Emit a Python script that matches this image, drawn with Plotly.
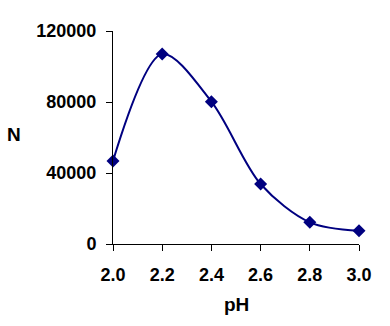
import plotly.graph_objects as go

ph = [2.0, 2.2, 2.4, 2.6, 2.8, 3.0]
n_vals = [46800, 107000, 80200, 33800, 12200, 7400]
y_ticks = [0, 40000, 80000, 120000]
x_ticks = [2.0, 2.2, 2.4, 2.6, 2.8, 3.0]

navy = "#000080"
tickfont = dict(family="Liberation Sans, Arial", size=18, color="black", weight="bold")

fig = go.Figure()
fig.add_trace(go.Scatter(
    x=ph, y=n_vals, mode="lines+markers",
    line=dict(color=navy, width=2, shape="spline", smoothing=0.9),
    marker=dict(symbol="diamond", size=10, color=navy),
    cliponaxis=False, showlegend=False,
))

fig.update_layout(
    width=390, height=326,
    margin=dict(l=113, r=31, t=31, b=82),
    paper_bgcolor="white", plot_bgcolor="white",
    font=dict(family="Liberation Sans, Arial, sans-serif", size=18, color="black"),
    xaxis=dict(range=[2.0, 3.0], tickvals=x_ticks, tickformat=".1f",
               showgrid=False, zeroline=False, showline=True, linecolor="black",
               linewidth=1, ticks="outside", ticklen=6, tickcolor="black",
               ticklabelstandoff=8, tickfont=tickfont),
    yaxis=dict(range=[0, 120000], tickvals=y_ticks, tickformat="d",
               showgrid=False, zeroline=False, showline=True, linecolor="black",
               linewidth=1, ticks="outside", ticklen=6, tickcolor="black",
               ticklabelstandoff=6, tickfont=tickfont),
    annotations=[
        dict(text="<b>N</b>", xref="paper", yref="paper", x=-0.402, y=0.512,
             showarrow=False, font=dict(size=19, color="black"), xanchor="center", yanchor="middle"),
        dict(text="<b>pH</b>", xref="paper", yref="paper", x=0.5, y=-0.286,
             showarrow=False, font=dict(size=19, color="black"), xanchor="center", yanchor="middle"),
    ],
)

fig.write_html("out.html")
